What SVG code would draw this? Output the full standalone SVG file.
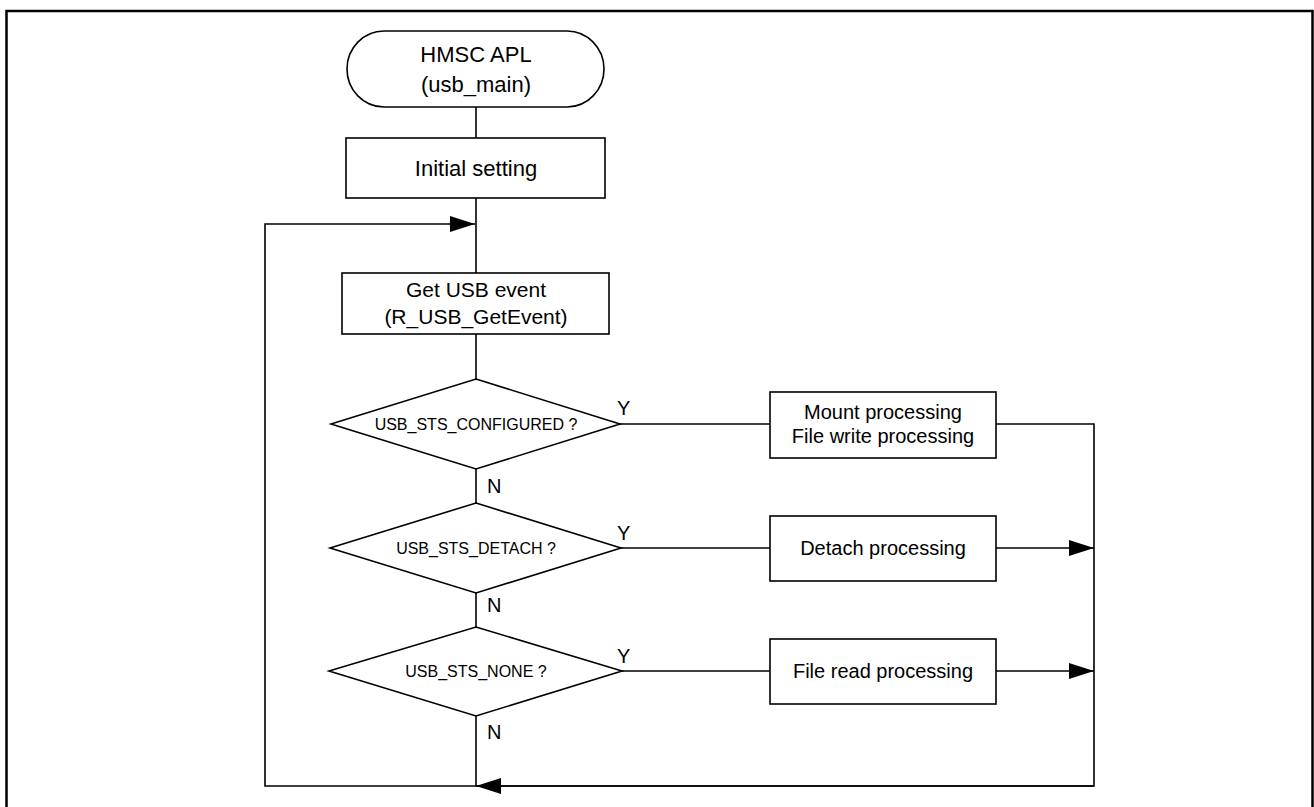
<svg xmlns="http://www.w3.org/2000/svg" width="1314" height="807" viewBox="0 0 1314 807">
<style>
.shape{fill:#fff;stroke:#000;stroke-width:1.6}
.line{fill:none;stroke:#000;stroke-width:1.6}
.t{font-family:"Liberation Sans",Arial,sans-serif;fill:#000;text-anchor:middle}
.lbl{font-family:"Liberation Sans",Arial,sans-serif;fill:#000;font-size:20px}
</style>
<defs>
<marker id="arr" viewBox="0 0 25 16" refX="25" refY="8" markerWidth="25" markerHeight="16" markerUnits="userSpaceOnUse" orient="auto">
<path d="M0,0 L25,8 L0,16 Z" fill="#000"/>
</marker>
</defs>
<rect x="0" y="0" width="1314" height="807" fill="#fff"/>
<rect id="frame" x="6.5" y="11" width="1306" height="810" fill="none" stroke="#000" stroke-width="2.5"/>
<g id="connectors">
<line class="line" x1="476" y1="107" x2="476" y2="138"/>
<line class="line" x1="476" y1="198" x2="476" y2="273"/>
<line class="line" x1="476" y1="334" x2="476" y2="379"/>
<line class="line" x1="476" y1="469" x2="476" y2="503"/>
<line class="line" x1="476" y1="593" x2="476" y2="627"/>
<line class="line" x1="476" y1="716" x2="476" y2="786"/>
<line class="line" x1="620" y1="424" x2="770" y2="424"/>
<line class="line" x1="621" y1="548" x2="770" y2="548"/>
<line class="line" x1="622" y1="671" x2="770" y2="671"/>
<polyline class="line" points="996,424 1094,424 1094,786 476,786"/>
<line class="line" x1="1094" y1="786" x2="476" y2="786" marker-end="url(#arr)"/>
<line class="line" x1="996" y1="548" x2="1094" y2="548" marker-end="url(#arr)"/>
<line class="line" x1="996" y1="671" x2="1094" y2="671" marker-end="url(#arr)"/>
<polyline class="line" points="476,786 265,786 265,224 475,224" marker-end="url(#arr)"/>
<text class="lbl" x="617" y="415">Y</text>
<text class="lbl" x="617" y="540">Y</text>
<text class="lbl" x="617" y="663">Y</text>
<text class="lbl" x="487" y="493">N</text>
<text class="lbl" x="487" y="612">N</text>
<text class="lbl" x="487" y="739">N</text>
</g>
<g id="start">
<rect class="shape" x="347" y="31" width="257" height="76" rx="37" ry="38"/>
<text class="t" x="476" y="62" font-size="22">HMSC APL</text>
<text class="t" x="476" y="92" font-size="22">(usb_main)</text>
</g>
<g id="init">
<rect class="shape" x="346" y="138" width="259" height="60"/>
<text class="t" x="476" y="176" font-size="22">Initial setting</text>
</g>
<g id="getevent">
<rect class="shape" x="342" y="273" width="267" height="61"/>
<text class="t" x="476" y="297" font-size="21">Get USB event</text>
<text class="t" x="476" y="324" font-size="21">(R_USB_GetEvent)</text>
</g>
<g id="d1">
<polygon class="shape" points="476,379 620,424 476,469 331,424"/>
<text class="t" x="476" y="430" font-size="16">USB_STS_CONFIGURED ?</text>
</g>
<g id="d2">
<polygon class="shape" points="476,503 621,548 476,593 330,548"/>
<text class="t" x="476" y="554" font-size="16">USB_STS_DETACH ?</text>
</g>
<g id="d3">
<polygon class="shape" points="476,627 622,671 476,716 329,671"/>
<text class="t" x="476" y="677" font-size="16">USB_STS_NONE ?</text>
</g>
<g id="mount">
<rect class="shape" x="770" y="392" width="226" height="66"/>
<text class="t" x="883" y="419" font-size="20">Mount processing</text>
<text class="t" x="883" y="443" font-size="20">File write processing</text>
</g>
<g id="detach">
<rect class="shape" x="770" y="516" width="226" height="65"/>
<text class="t" x="883" y="555" font-size="20">Detach processing</text>
</g>
<g id="read">
<rect class="shape" x="770" y="639" width="226" height="65"/>
<text class="t" x="883" y="678" font-size="20">File read processing</text>
</g>
</svg>
